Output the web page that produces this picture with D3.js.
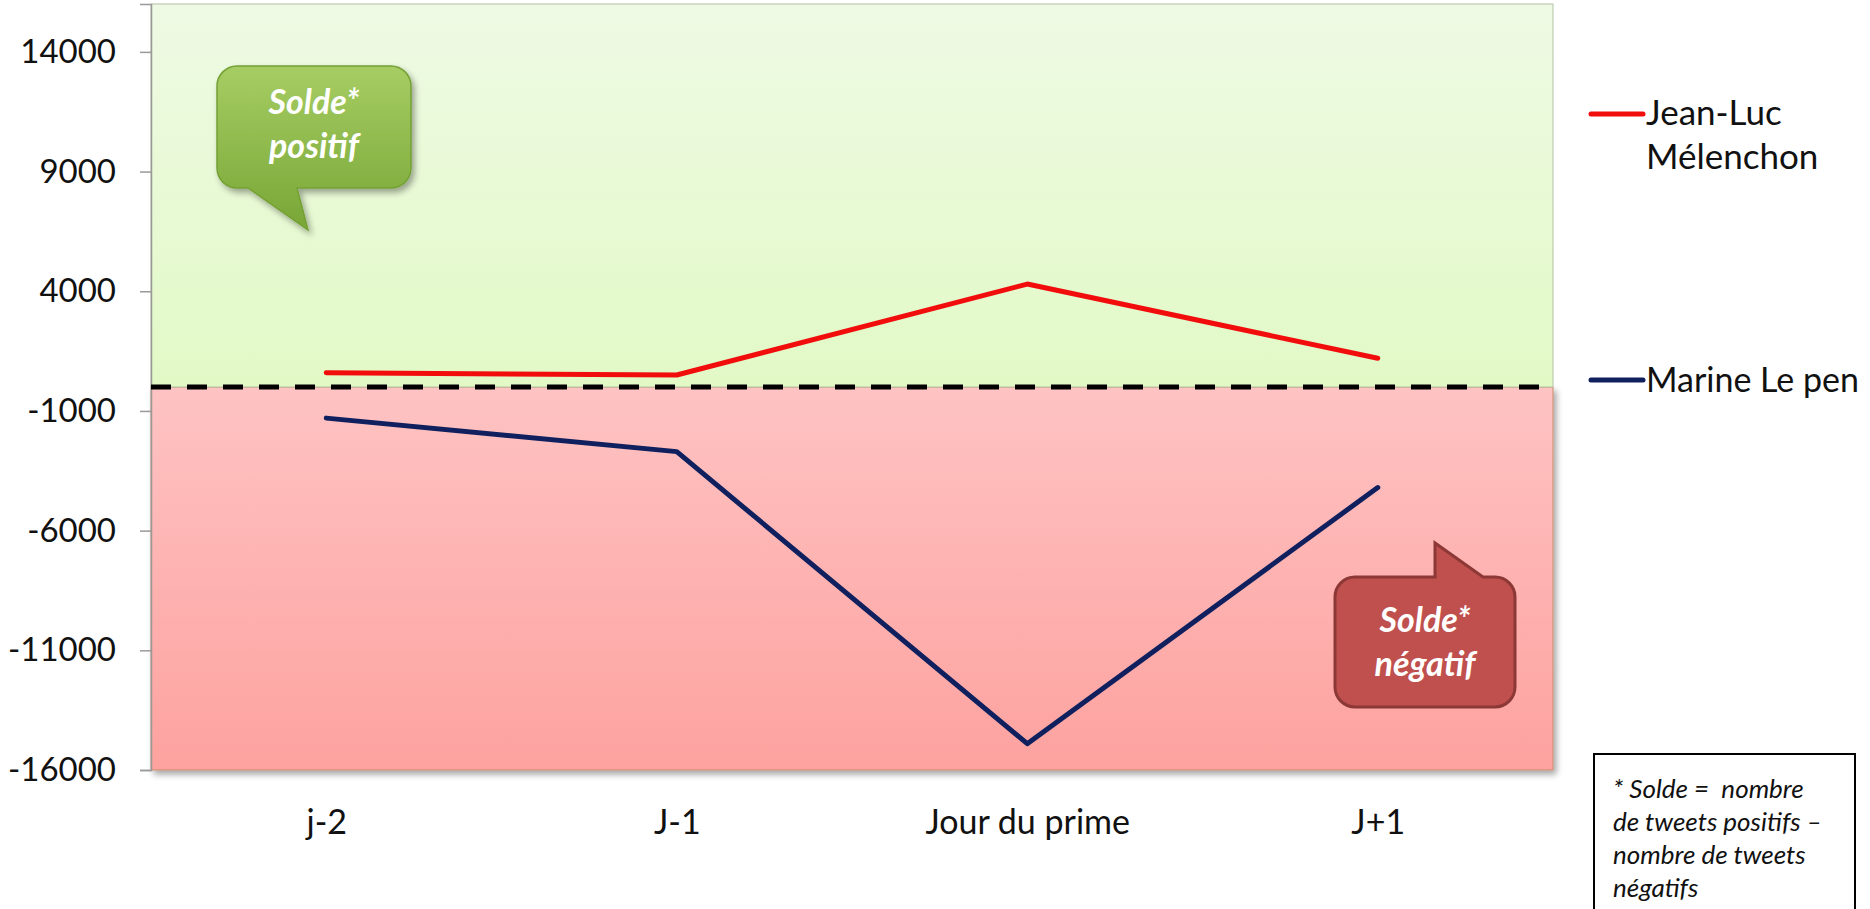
<!DOCTYPE html>
<html>
<head>
<meta charset="utf-8">
<script src="https://cdn.jsdelivr.net/npm/d3@7"></script>
<style>
  body { margin: 0; background: #fff; }
  text { font-family: Lato, "Open Sans", sans-serif; }
</style>
</head>
<body>
<div id="chart"></div>
<script>
const categories = ["j-2", "J-1", "Jour du prime", "J+1"];
const melenchon = [600, 500, 4300, 1200];
const lepen = [-1300, -2700, -14900, -4200];
const yTicks = [-16000, -11000, -6000, -1000, 4000, 9000, 14000];
const seriesNames = ["Jean-Luc Mélenchon", "Marine Le pen"];
const footnote = ["* Solde =  nombre", "de tweets positifs –", "nombre de tweets", "négatifs"];

const chart_width = 1870, chart_height = 909;
const plot = { left: 151, right: 1553, top: 4, bottom: 770 };

const svg = d3.select("#chart").append("svg")
    .attr("width", chart_width)
    .attr("height", chart_height);

const defs = svg.append("defs");

function grad(id, c1, c2) {
    const g = defs.append("linearGradient").attr("id", id)
        .attr("x1", 0).attr("y1", 0).attr("x2", 0).attr("y2", 1);
    g.append("stop").attr("offset", "0%").attr("stop-color", c1);
    g.append("stop").attr("offset", "100%").attr("stop-color", c2);
}
grad("greenBg", "#eefae4", "#e2f9c6");
grad("pinkBg", "#fec3c3", "#fda29f");
grad("greenBubble", "#a6cd63", "#78a636");

const shadow = defs.append("filter").attr("id", "shadow")
    .attr("x", "-5%").attr("y", "-5%").attr("width", "112%").attr("height", "115%");
shadow.append("feDropShadow").attr("dx", 3).attr("dy", 4)
    .attr("stdDeviation", 3).attr("flood-color", "#000").attr("flood-opacity", 0.35);

var x = d3.scalePoint()
    .domain(categories)
    .range([plot.left, plot.right])
    .padding(0.5);

var y = d3.scaleLinear()
    .domain([-16000, 16000])
    .range([plot.bottom, plot.top]);

// zones
svg.append("rect")
    .attr("x", plot.left).attr("y", y(0))
    .attr("width", plot.right - plot.left).attr("height", y(-16000) - y(0))
    .attr("fill", "url(#pinkBg)")
    .attr("stroke", "#c98a6a").attr("stroke-width", 1)
    .attr("filter", "url(#shadow)");

svg.append("rect")
    .attr("x", plot.left).attr("y", y(16000))
    .attr("width", plot.right - plot.left).attr("height", y(0) - y(16000))
    .attr("fill", "url(#greenBg)")
    .attr("stroke", "#b3c2a3").attr("stroke-width", 1);

// y axis
var yAxis = svg.append("g")
    .attr("transform", "translate(" + plot.left + ",0)")
    .call(d3.axisLeft(y).tickValues(yTicks).tickSize(11).tickPadding(24).tickFormat(d => String(d)));
yAxis.select(".domain").attr("stroke", "#999").attr("stroke-width", 1.5);
yAxis.selectAll(".tick line").attr("stroke", "#999").attr("stroke-width", 1.5);
yAxis.selectAll(".tick text")
    .attr("font-size", 33).attr("fill", "#111")
    .style("font-family", "Lato, sans-serif");

// x axis labels
var xAxis = svg.append("g")
    .attr("transform", "translate(0," + plot.bottom + ")")
    .call(d3.axisBottom(x).tickSize(0).tickPadding(40));
xAxis.select(".domain").remove();
xAxis.selectAll(".tick text")
    .attr("font-size", 34).attr("fill", "#111")
    .style("font-family", "Lato, sans-serif");

// zero line
svg.append("line")
    .attr("x1", plot.left).attr("x2", plot.right)
    .attr("y1", y(0)).attr("y2", y(0))
    .attr("stroke", "#000").attr("stroke-width", 5)
    .attr("stroke-dasharray", "20,16");

// series
var line = d3.line()
    .x((d, i) => x(categories[i]))
    .y(d => y(d));

var colors = ["#f20d0d", "#10205e"];
[melenchon, lepen].forEach((s, i) => {
    svg.append("path")
        .datum(s)
        .attr("d", line)
        .attr("fill", "none")
        .attr("stroke", colors[i])
        .attr("stroke-width", 5)
        .attr("stroke-linecap", "round")
        .attr("stroke-linejoin", "round");
});

// legend
var legend = svg.append("g");
legend.append("line").attr("x1", 1591).attr("x2", 1643).attr("y1", 114).attr("y2", 114)
    .attr("stroke", colors[0]).attr("stroke-width", 5).attr("stroke-linecap", "round");
legend.append("text").attr("x", 1646).attr("y", 113).attr("dy", "0.35em")
    .attr("font-size", 35).attr("fill", "#111").text("Jean-Luc");
legend.append("text").attr("x", 1646).attr("y", 157).attr("dy", "0.35em")
    .attr("font-size", 35).attr("fill", "#111").text("Mélenchon");
legend.append("line").attr("x1", 1591).attr("x2", 1643).attr("y1", 380).attr("y2", 380)
    .attr("stroke", colors[1]).attr("stroke-width", 5).attr("stroke-linecap", "round");
legend.append("text").attr("x", 1646).attr("y", 380).attr("dy", "0.35em")
    .attr("font-size", 34).attr("fill", "#111").text(seriesNames[1]);

// callouts
function bubble(x0, y0, x1, y1, r, tail) {
    var p = d3.path();
    p.moveTo(x0 + r, y0);
    if (tail.side === "top") {
        p.lineTo(tail.a, y0);
        p.lineTo(tail.tx, tail.ty);
        p.lineTo(tail.b, y0);
    }
    p.lineTo(x1 - r, y0);
    p.arcTo(x1, y0, x1, y0 + r, r);
    p.lineTo(x1, y1 - r);
    p.arcTo(x1, y1, x1 - r, y1, r);
    if (tail.side === "bottom") {
        p.lineTo(tail.b, y1);
        p.lineTo(tail.tx, tail.ty);
        p.lineTo(tail.a, y1);
    }
    p.lineTo(x0 + r, y1);
    p.arcTo(x0, y1, x0, y1 - r, r);
    p.lineTo(x0, y0 + r);
    p.arcTo(x0, y0, x0 + r, y0, r);
    p.closePath();
    return p.toString();
}

function bubbleText(cx, lines, y0) {
    lines.forEach((t, i) => {
        svg.append("text").attr("x", cx).attr("y", y0 + i * 44).attr("dy", "0.35em")
            .attr("text-anchor", "middle").attr("font-size", 34).attr("font-weight", "bold")
            .attr("font-style", "italic").attr("fill", "#fff").text(t);
    });
}

svg.append("path")
    .attr("d", bubble(217, 66, 411, 188, 20, { side: "bottom", a: 248, b: 297, tx: 308, ty: 230 }))
    .attr("fill", "url(#greenBubble)")
    .attr("stroke", "#74a034").attr("stroke-width", 1.5)
    .attr("filter", "url(#shadow)");
bubbleText(314, ["Solde*", "positif"], 102);

svg.append("path")
    .attr("d", bubble(1335, 577, 1515, 707, 20, { side: "top", a: 1435, b: 1483, tx: 1435, ty: 543 }))
    .attr("fill", "#c0504d")
    .attr("stroke", "#8c3836").attr("stroke-width", 3);
bubbleText(1425, ["Solde*", "négatif"], 620);

// footnote box
svg.append("rect")
    .attr("x", 1594).attr("y", 754).attr("width", 261).attr("height", 170)
    .attr("fill", "#fff").attr("stroke", "#000").attr("stroke-width", 2);
svg.append("g").selectAll("text")
    .data(footnote)
    .join("text")
    .attr("x", 1613)
    .attr("y", (d, i) => 789 + i * 33)
    .attr("dy", "0.35em")
    .attr("font-size", 26)
    .attr("font-style", "italic")
    .attr("fill", "#111")
    .style("white-space", "pre")
    .text(d => d);
</script>
</body>
</html>
